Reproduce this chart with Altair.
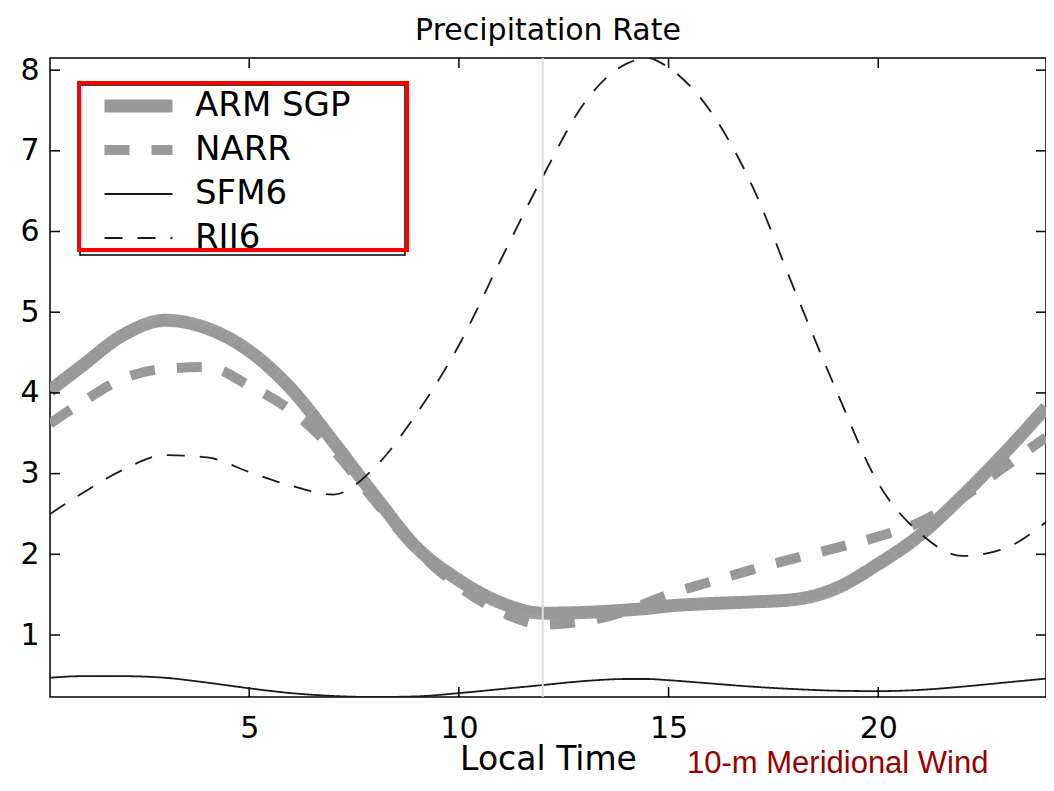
import altair as alt
import pandas as pd

# ---- data ----
hours = [0.25, 1, 2, 3, 4, 5, 6, 7, 8, 9, 10, 11, 12, 13, 14, 14.5, 15, 16, 17, 18, 19, 20, 21, 22, 23, 24]
arm_sgp = [4.03, 4.33, 4.72, 4.90, 4.80, 4.52, 4.05, 3.40, 2.72, 2.08, 1.68, 1.40, 1.27, 1.28, 1.31, 1.33,
           1.36, 1.39, 1.41, 1.44, 1.58, 1.88, 2.24, 2.72, 3.25, 3.82]
narr = [3.62, 3.88, 4.18, 4.30, 4.32, 4.09, 3.78, 3.30, 2.66, 2.05, 1.60, 1.29, 1.13, 1.17, 1.30, 1.40,
        1.50, 1.66, 1.81, 1.95, 2.08, 2.22, 2.40, 2.70, 3.08, 3.45]
sfm6 = [0.47, 0.49, 0.49, 0.47, 0.41, 0.34, 0.28, 0.245, 0.232, 0.24, 0.28, 0.33, 0.38, 0.43, 0.455, 0.455,
        0.44, 0.40, 0.36, 0.33, 0.31, 0.305, 0.32, 0.36, 0.41, 0.46]
rii6 = [2.50, 2.75, 3.05, 3.23, 3.20, 3.02, 2.85, 2.74, 3.08, 3.75, 4.59, 5.65, 6.68, 7.60, 8.08, 8.15,
        8.03, 7.49, 6.56, 5.28, 4.03, 2.88, 2.26, 1.98, 2.07, 2.40]

series_names = ["ARM SGP", "NARR", "SFM6", "RII6"]
x_tick_values = [5, 10, 15, 20]
y_tick_values = [1, 2, 3, 4, 5, 6, 7, 8]
noon = [12]
note_text = ["10-m Meridional Wind"]

rows = []
for name, vals in zip(series_names, [arm_sgp, narr, sfm6, rii6]):
    for h, v in zip(hours, vals):
        rows.append({"hour": h, "value": v, "series": name})
df = pd.DataFrame(rows)

# ---- styling ----
W, H = 996, 639
FONT = "DejaVu Sans"
colors = ["#999999", "#999999", "#1a1a1a", "#1a1a1a"]
dashes = [[1, 0], [25, 22], [1, 0], [18, 15]]
widths = [13, 10, 1.8, 1.8]

xscale = alt.Scale(domain=[0.25, 24], nice=False, zero=False)
yscale = alt.Scale(domain=[0.232, 8.15], nice=False, zero=False)

xaxis = alt.Axis(values=x_tick_values, ticks=False, domain=False, grid=False,
                 labelFontSize=30, labelFont=FONT, labelColor="black", labelPadding=16,
                 titleFontSize=33, titleFont=FONT, titleFontWeight="normal", titleColor="black",
                 titlePadding=0, labelFlush=False)
yaxis = alt.Axis(values=y_tick_values, ticks=False, domain=False, grid=False,
                 labelFontSize=30, labelFont=FONT, labelColor="black", labelPadding=11,
                 labelFlush=False)

X = alt.X("hour:Q", scale=xscale, axis=xaxis, title="Local Time")
Y = alt.Y("value:Q", scale=yscale, axis=yaxis, title=None)

legend = alt.Legend(title=None, orient="none", legendX=31, legendY=24,
                    symbolType="stroke", symbolSize=4624, clipHeight=32, rowPadding=10,
                    padding=8, symbolOffset=9, labelOffset=16,
                    labelFontSize=34, labelFont=FONT, labelColor="black")

lines = alt.Chart(df).mark_line(clip=True, strokeCap="butt", interpolate="monotone").encode(
    x=X,
    y=Y,
    color=alt.Color("series:N", scale=alt.Scale(domain=series_names, range=colors), legend=legend),
    strokeDash=alt.StrokeDash("series:N", scale=alt.Scale(domain=series_names, range=dashes), legend=legend),
    strokeWidth=alt.StrokeWidth("series:N",
                                scale=alt.Scale(type="ordinal", domain=series_names, range=widths),
                                legend=legend),
)

noon_rule = alt.Chart(pd.DataFrame({"hour": noon})).mark_rule(color="#dedede", strokeWidth=2).encode(x=X)

xt = pd.DataFrame({"hour": x_tick_values})
yt = pd.DataFrame({"value": y_tick_values})
tick_len = 10
xticks_bottom = alt.Chart(xt).mark_rule(color="black", strokeWidth=1.5).encode(
    x=X, y=alt.value(H - tick_len), y2=alt.value(H))
xticks_top = alt.Chart(xt).mark_rule(color="black", strokeWidth=1.5).encode(
    x=X, y=alt.value(0), y2=alt.value(tick_len))
yticks_left = alt.Chart(yt).mark_rule(color="black", strokeWidth=1.5).encode(
    y=Y, x=alt.value(0), x2=alt.value(tick_len))
yticks_right = alt.Chart(yt).mark_rule(color="black", strokeWidth=1.5).encode(
    y=Y, x=alt.value(W - tick_len), x2=alt.value(W))

one = pd.DataFrame({"k": [0]})
legend_box = alt.Chart(one).mark_rect(fill="white", stroke="black", strokeWidth=1.5).encode(
    x=alt.value(30), x2=alt.value(355), y=alt.value(27), y2=alt.value(197))
red_box = alt.Chart(one).mark_rect(fillOpacity=0, stroke="#ff0000", strokeWidth=4).encode(
    x=alt.value(29), x2=alt.value(357), y=alt.value(25), y2=alt.value(192))

note = alt.Chart(pd.DataFrame({"label": note_text})).mark_text(
    align="left", baseline="alphabetic", fontSize=31, font="Liberation Sans", color="#990000"
).encode(x=alt.value(637), y=alt.value(715), text="label:N")

chart = alt.layer(
    lines, noon_rule, xticks_bottom, xticks_top, yticks_left, yticks_right, legend_box, red_box, note
).properties(
    width=W, height=H,
    autosize=alt.AutoSizeParams(type="none"),
    padding={"left": 42, "top": 50, "right": 0, "bottom": 84},
    title=alt.Title("Precipitation Rate", fontSize=30, font=FONT, fontWeight="normal",
                    color="black", offset=9, anchor="middle"),
    background="white",
).configure_view(stroke="black", strokeWidth=1.5)

chart.save("out.html", embed_options={"renderer": "svg", "actions": False})
